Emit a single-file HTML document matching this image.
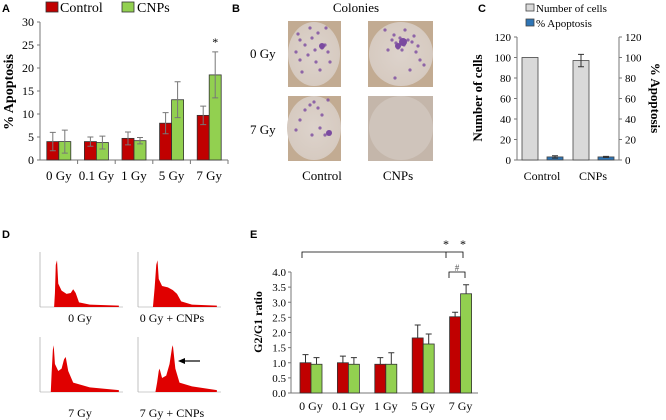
<!DOCTYPE html>
<html><head><meta charset="utf-8"><style>
body{margin:0;background:#fff}
svg{display:block;font-family:"Liberation Serif",serif}
.lt{font-family:"Liberation Sans",sans-serif;font-weight:bold;font-size:11px}
</style></head><body>
<svg id="s" width="666" height="420" viewBox="0 0 666 420">
<defs>
<radialGradient id="dish" cx="50%" cy="50%" r="60%"><stop offset="0" stop-color="#ddd3cc"/><stop offset="0.85" stop-color="#d6cac0"/><stop offset="1" stop-color="#c2b2a2"/></radialGradient>
</defs>
<g id="pA">
<text class="lt" x="2" y="12">A</text>
<rect x="46" y="2" width="12" height="10" fill="#c00000" stroke="#333" stroke-width="0.8"/>
<text x="60" y="12" font-size="14">Control</text>
<rect x="122" y="2" width="12" height="10" fill="#92d050" stroke="#333" stroke-width="0.8"/>
<text x="137" y="12" font-size="14">CNPs</text>
<text transform="translate(13,92) rotate(-90)" text-anchor="middle" font-size="14" font-weight="bold">% Apoptosis</text>
</g>
<g id="pB">
<text class="lt" x="232" y="12">B</text>
<text x="356" y="12" font-size="13" text-anchor="middle">Colonies</text>
<rect x="288" y="21" width="53" height="66" fill="#c2ab92"/>
<ellipse cx="314" cy="54" rx="26" ry="32" fill="url(#dish)"/>
<rect x="368" y="21" width="65" height="66" fill="#c2ab92"/>
<ellipse cx="401" cy="54" rx="32" ry="32" fill="url(#dish)"/>
<rect x="288" y="96" width="53" height="65" fill="#c2ab92"/>
<ellipse cx="314" cy="128" rx="27" ry="32" fill="url(#dish)"/>
<rect x="368" y="96" width="65" height="65" fill="#c4b6aa"/>
<ellipse cx="401" cy="128" rx="32" ry="32" fill="#cfc4bb"/>
<g id="dots" fill="#7a4aa0"></g>
<text x="250" y="58" font-size="13">0 Gy</text>
<text x="250" y="134" font-size="13">7 Gy</text>
<text x="322" y="180" font-size="13" text-anchor="middle">Control</text>
<text x="398" y="180" font-size="13" text-anchor="middle">CNPs</text>
</g>
<g id="pC">
<text class="lt" x="478" y="12">C</text>
<rect x="526" y="4" width="8" height="7" fill="#d9d9d9" stroke="#444" stroke-width="0.8"/>
<text x="536" y="12" font-size="11">Number of cells</text>
<rect x="526" y="19" width="8" height="7" fill="#2e75b6" stroke="#444" stroke-width="0.8"/>
<text x="536" y="27" font-size="11">% Apoptosis</text>
<text transform="translate(482,98) rotate(-90)" text-anchor="middle" font-size="13" font-weight="bold">Number of cells</text>
<text transform="translate(651,98) rotate(90)" text-anchor="middle" font-size="13" font-weight="bold">% Apoptosis</text>
</g>
<g id="pD">
<text class="lt" x="2" y="238">D</text>
<text x="80" y="322" font-size="12" text-anchor="middle">0 Gy</text>
<text x="172" y="322" font-size="12" text-anchor="middle">0 Gy + CNPs</text>
<text x="80" y="417" font-size="12" text-anchor="middle">7 Gy</text>
<text x="172" y="417" font-size="12" text-anchor="middle">7 Gy + CNPs</text>
<line x1="184" y1="361" x2="200" y2="361" stroke="#000" stroke-width="1.2"/>
<polygon points="178,361 185,358 185,364" fill="#000"/>
</g>
<g id="pE">
<text class="lt" x="250" y="238">E</text>
<path d="M302,258 V252 H463 V258 M446,252 V258" fill="none" stroke="#000" stroke-width="0.8"/>
<text x="446" y="248" font-size="12" text-anchor="middle">*</text>
<text x="463" y="248" font-size="12" text-anchor="middle">*</text>
<path d="M449,278 V272 H465 V278" fill="none" stroke="#000" stroke-width="0.8"/>
<text x="457" y="271" font-size="9" text-anchor="middle" fill="#555">#</text>
<text transform="translate(262,322) rotate(-90)" text-anchor="middle" font-size="12" font-weight="bold">G2/G1 ratio</text>
</g>
</svg>
<script>
// Panel A data
const aCats=["0 Gy","0.1 Gy","1 Gy","5 Gy","7 Gy"];
const aCtrl=[4.0,4.0,4.7,8.0,9.7];
const aCtrlErr=[2.0,1.0,1.4,2.3,2.0];
const aCnp=[4.0,3.8,4.2,13.1,18.5];
const aCnpErr=[2.5,1.4,0.7,3.9,5.0];
const aTicks=[0,5,10,15,20,25,30];
// Panel C data
const cCats=["Control","CNPs"];
const cCells=[100,97];
const cCellsErr=[0,6];
const cApop=[3,3];
const cApopErr=[1.2,0.5];
const cTicks=[0,20,40,60,80,100,120];
// Panel E data
const eCats=["0 Gy","0.1 Gy","1 Gy","5 Gy","7 Gy"];
const eCtrl=[1.0,1.0,0.95,1.82,2.52];
const eCtrlErr=[0.27,0.22,0.22,0.43,0.15];
const eCnp=[0.95,0.95,0.95,1.62,3.28];
const eCnpErr=[0.22,0.22,0.38,0.33,0.3];
const eTicks=["0.0","0.5","1.0","1.5","2.0","2.5","3.0","3.5","4.0"];

const NS="http://www.w3.org/2000/svg";
function mk(tag,attrs,parent,txt){const e=document.createElementNS(NS,tag);for(const k in attrs)e.setAttribute(k,attrs[k]);if(txt!==undefined)e.textContent=txt;parent.appendChild(e);return e;}

(function(){
const g=document.getElementById('pA');
const x0=40,x1=228,y0=160,yTop=22,max=30;
const y=v=>y0-(v/max)*(y0-yTop);
const step=(x1-x0)/aCats.length, bw=12;
const ax=mk('line',{x1:x0,y1:y0,x2:x0,y2:yTop,stroke:'#777'},g);

const xa=mk('line',{x1:x0,y1:y0,x2:x1,y2:y0,stroke:'#777'},g);

aTicks.forEach(t=>{mk('line',{x1:x0-3,y1:y(t),x2:x0,y2:y(t),stroke:'#777'},g);
const l=mk('text',{x:x0-6,y:y(t)+4,'font-size':12,'text-anchor':'end'},g,t);
});
aCats.forEach((c,i)=>{const cx=x0+step*(i+0.5);
mk('line',{x1:x0+step*(i+1),y1:y0,x2:x0+step*(i+1),y2:y0+4,stroke:'#777'},g);
[[aCtrl,aCtrlErr,'#c00000',-bw],[aCnp,aCnpErr,'#92d050',0]].forEach(([v,e,col,off],k)=>{
const r=mk('rect',{x:cx+off,y:y(v[i]),width:bw,height:y0-y(v[i]),fill:col,stroke:'#333','stroke-width':0.8},g);

const bx=cx+off+bw/2;
mk('path',{d:`M${bx},${y(v[i]-e[i])}V${y(v[i]+e[i])}M${bx-3},${y(v[i]+e[i])}H${bx+3}M${bx-3},${y(v[i]-e[i])}H${bx+3}`,stroke:'#777',fill:'none'},g);});
const l=mk('text',{x:cx,y:180,'font-size':13,'text-anchor':'middle'},g,c);
});
const s=mk('text',{x:x0+step*4.5+bw/2,y:y(aCnp[4]+aCnpErr[4])-6,'font-size':12,'text-anchor':'middle'},g,'*');

})();

(function(){
const g=document.getElementById('dots');
const pts=[[300,40],[305,45],[312,38],[318,33],[322,48],[325,45],[328,52],[296,52],[300,60],[316,62],[320,70],[302,72],[330,62],[310,28],[326,28],[298,34],[315,50],[308,55],
[392,40],[396,43],[400,38],[404,45],[408,40],[412,42],[398,48],[388,50],[416,52],[420,60],[424,65],[410,70],[395,78],[385,30],[405,30],[402,50],[394,35],[414,36],[418,46],
[305,110],[310,105],[318,108],[322,115],[300,120],[325,135],[330,132],[312,135],[296,130],[328,100],[314,102],[320,128]];
pts.forEach(p=>mk('circle',{cx:p[0],cy:p[1],r:1.6,'fill-opacity':0.8},g));
mk('circle',{cx:322,cy:46,r:3},g);mk('circle',{cx:403,cy:42,r:4},g);mk('circle',{cx:398,cy:46,r:3},g);mk('circle',{cx:329,cy:133,r:3},g);
})();

(function(){
const g=document.getElementById('pC');
const xl=517,xr=619,y0=160,yTop=37,max=120;
const y=v=>y0-(v/max)*(y0-yTop);
mk('line',{x1:xl,y1:y0,x2:xl,y2:yTop,stroke:'#777'},g);
mk('line',{x1:xr,y1:y0,x2:xr,y2:yTop,stroke:'#777'},g);
mk('line',{x1:xl,y1:y0,x2:xr,y2:y0,stroke:'#777'},g);
cTicks.forEach(t=>{mk('line',{x1:xl-3,y1:y(t),x2:xl,y2:y(t),stroke:'#777'},g);
mk('line',{x1:xr,y1:y(t),x2:xr+3,y2:y(t),stroke:'#777'},g);
const a=mk('text',{x:xl-6,y:y(t)+4,'font-size':11,'text-anchor':'end'},g,t);

const b=mk('text',{x:xr+6,y:y(t)+4,'font-size':11},g,t);
});
const step=(xr-xl)/cCats.length,bw=16;
cCats.forEach((c,i)=>{const gx=xl+step*i+5;
[[cCells,cCellsErr,'#d9d9d9',0],[cApop,cApopErr,'#2e75b6',25]].forEach(([v,e,col,off],k)=>{
const r=mk('rect',{x:gx+off,y:y(v[i]),width:bw,height:y0-y(v[i]),fill:col,stroke:'#444','stroke-width':0.8},g);

if(e[i]>0){const bx=gx+off+bw/2;mk('path',{d:`M${bx},${y(v[i]-e[i])}V${y(v[i]+e[i])}M${bx-3},${y(v[i]+e[i])}H${bx+3}M${bx-3},${y(v[i]-e[i])}H${bx+3}`,stroke:'#333',fill:'none'},g);}});
const l=mk('text',{x:gx+20,y:180,'font-size':12,'text-anchor':'middle'},g,c);
});
})();

(function(){
const g=document.getElementById('pD');
const boxes=[
[40,252,[[0.17,0],[0.18,0.3],[0.19,0.9],[0.205,1],[0.22,0.5],[0.26,0.35],[0.32,0.28],[0.37,0.3],[0.4,0.38],[0.43,0.3],[0.47,0.1],[0.6,0.05],[0.95,0.03]]],
[138,252,[[0.18,0],[0.2,0.4],[0.22,0.9],[0.235,1],[0.25,0.6],[0.29,0.45],[0.36,0.42],[0.42,0.36],[0.47,0.28],[0.52,0.12],[0.65,0.05],[0.95,0.03]]],
[40,337,[[0.13,0],[0.14,0.4],[0.155,0.9],[0.165,1],[0.18,0.6],[0.22,0.45],[0.26,0.5],[0.29,0.7],[0.31,0.75],[0.34,0.45],[0.4,0.2],[0.6,0.1],[0.95,0.04]]],
[138,337,[[0.21,0],[0.23,0.2],[0.25,0.45],[0.26,0.5],[0.29,0.3],[0.34,0.35],[0.38,0.6],[0.41,0.95],[0.42,1],[0.45,0.5],[0.5,0.2],[0.65,0.12],[0.95,0.04]]]];
boxes.forEach(([bx,by,pk],j)=>{const w=83,h=55;
mk('line',{x1:bx,y1:by,x2:bx,y2:by+h,stroke:'#999','stroke-width':0.6},g);
mk('line',{x1:bx,y1:by+h,x2:bx+w,y2:by+h,stroke:'#999','stroke-width':0.6},g);
let d=`M${bx+pk[0][0]*w},${by+h}`;
pk.forEach(([fx,fy])=>{d+=` L${bx+fx*w},${by+h-fy*h*0.85}`;});
d+=` L${bx+0.95*w},${by+h}Z`;
const p=mk('path',{d:d,fill:'#e00000'},g);
});
})();

(function(){
const g=document.getElementById('pE');
const x0=291,x1=478,y0=393,yTop=272,max=4;
const y=v=>y0-(v/max)*(y0-yTop);
mk('line',{x1:x0,y1:y0,x2:x0,y2:yTop,stroke:'#777'},g);
mk('line',{x1:x0,y1:y0,x2:x1,y2:y0,stroke:'#777'},g);
eTicks.forEach(t=>{const v=parseFloat(t);mk('line',{x1:x0-3,y1:y(v),x2:x0,y2:y(v),stroke:'#777'},g);
const l=mk('text',{x:x0-5,y:y(v)+4,'font-size':11,'text-anchor':'end'},g,t);
});
const step=(x1-x0)/eCats.length,bw=11;
eCats.forEach((c,i)=>{const cx=x0+step*i+20;
[[eCtrl,eCtrlErr,'#c00000',-bw],[eCnp,eCnpErr,'#92d050',0]].forEach(([v,e,col,off],k)=>{
const r=mk('rect',{x:cx+off,y:y(v[i]),width:bw,height:y0-y(v[i]),fill:col,stroke:'#333','stroke-width':0.8},g);

const bx=cx+off+bw/2;
mk('path',{d:`M${bx},${y(v[i])}V${y(v[i]+e[i])}M${bx-3},${y(v[i]+e[i])}H${bx+3}`,stroke:'#333',fill:'none'},g);});
const l=mk('text',{x:cx,y:410,'font-size':12,'text-anchor':'middle'},g,c);
});
})();
</script>
</body></html>
